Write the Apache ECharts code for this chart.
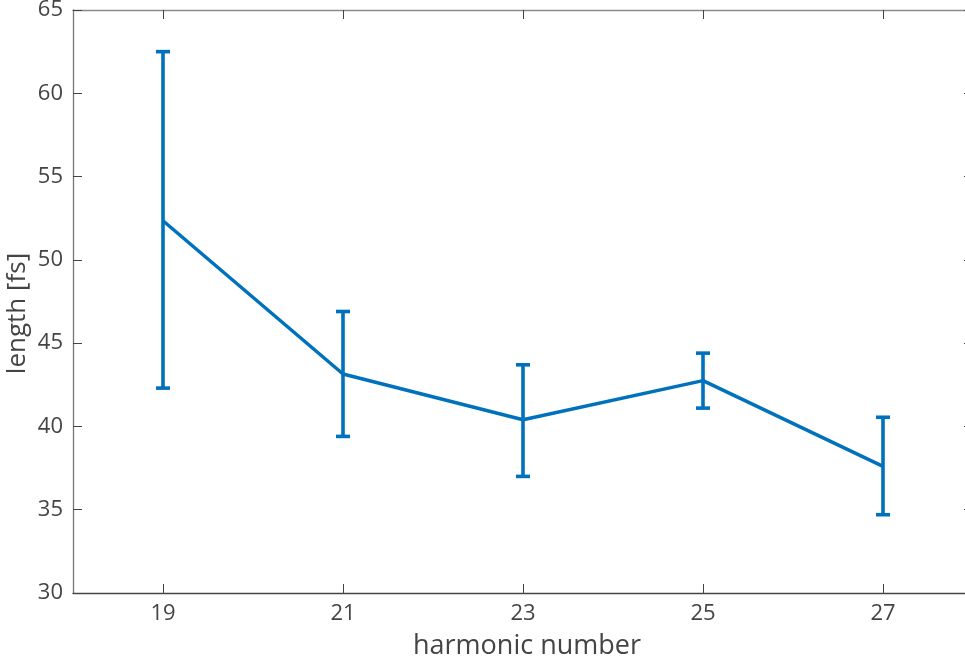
<!DOCTYPE html>
<html>
<head>
<meta charset="utf-8">
<script src="https://cdn.jsdelivr.net/npm/echarts@6/dist/echarts.min.js"></script>
<style>
  html, body { margin: 0; padding: 0; background: #fff; overflow: hidden; }
  #chart { width: 965px; height: 666px; }
</style>
</head>
<body>
<div id="chart"></div>
<script>
// Pulse length per harmonic order, with lower/upper error limits
const harmonics = [19, 21, 23, 25, 27];
const lengthFs = [52.35, 43.15, 40.4, 42.75, 37.6];
const lowerFs = [42.3, 39.4, 37.0, 41.1, 34.7];
const upperFs = [62.5, 46.9, 43.7, 44.4, 40.55];
const xTicks = [19, 21, 23, 25, 27];
const yTicks = [30, 35, 40, 45, 50, 55, 60, 65];

const LINE = '#0072BD';
const AXIS = '#444444';
const FONT = 'Open Sans';

// x axis spans 18..28; its right end lies just past the page border
const X_MIN = 18;
const X_MAX = 28;

const mainLine = harmonics.map((h, i) => [h, lengthFs[i]]);
const errData = harmonics.map((h, i) => [h, lowerFs[i], upperFs[i]]);

function errorBar(params, api) {
  const x = api.value(0);
  const lo = api.coord([x, api.value(1)]);
  const hi = api.coord([x, api.value(2)]);
  const half = 7;
  const style = { stroke: LINE, lineWidth: 3.6, fill: null };
  return {
    type: 'group',
    children: [
      { type: 'line', shape: { x1: lo[0], y1: lo[1], x2: hi[0], y2: hi[1] }, style },
      { type: 'line', shape: { x1: lo[0] - half, y1: lo[1], x2: lo[0] + half, y2: lo[1] }, style },
      { type: 'line', shape: { x1: hi[0] - half, y1: hi[1], x2: hi[0] + half, y2: hi[1] }, style }
    ]
  };
}

const chart = echarts.init(document.getElementById('chart'), null, { renderer: 'canvas' });

const tickCommon = { show: true, inside: true, length: 9, lineStyle: { color: AXIS, width: 1 } };

chart.setOption({
  animation: false,
  backgroundColor: '#ffffff',
  grid: { left: 73, top: 10, right: -8, bottom: 73, containLabel: false, outerBoundsMode: 'none' },
  xAxis: [
    {
      type: 'value', min: X_MIN, max: X_MAX, position: 'bottom',
      name: 'harmonic number', nameLocation: 'middle', nameGap: 40,
      nameTextStyle: { fontFamily: FONT, fontSize: 27, color: AXIS, padding: [0, 0, 0, 8] },
      axisLine: { show: true, onZero: false, lineStyle: { color: AXIS, width: 1.3 } },
      axisTick: Object.assign({ customValues: xTicks }, tickCommon),
      axisLabel: { customValues: xTicks, margin: 10, fontFamily: FONT, fontSize: 22, color: AXIS },
      splitLine: { show: false }
    },
    {
      type: 'value', min: X_MIN, max: X_MAX, position: 'top',
      axisLine: { show: true, onZero: false, lineStyle: { color: '#8a8a8a', width: 1.3 } },
      axisTick: Object.assign({ customValues: xTicks }, tickCommon),
      axisLabel: { show: false },
      splitLine: { show: false }
    }
  ],
  yAxis: [
    {
      type: 'value', min: 30, max: 65, interval: 5, position: 'left',
      name: 'length [fs]', nameLocation: 'middle', nameGap: 42, nameMoveOverlap: false,
      nameTextStyle: { fontFamily: FONT, fontSize: 26, color: AXIS, padding: [0, 24, 0, 0] },
      axisLine: { show: true, onZero: false, lineStyle: { color: '#777777', width: 1.3 } },
      axisTick: tickCommon,
      axisLabel: { margin: 10, fontFamily: FONT, fontSize: 22, color: AXIS,
                   customValues: yTicks },
      splitLine: { show: false }
    },
    {
      type: 'value', min: 30, max: 65, interval: 5, position: 'right',
      axisLine: { show: true, onZero: false, lineStyle: { color: AXIS, width: 1.3 } },
      axisTick: tickCommon,
      axisLabel: { show: false },
      splitLine: { show: false }
    }
  ],
  series: [
    {
      type: 'line', data: mainLine, xAxisIndex: 0, yAxisIndex: 0,
      showSymbol: false, lineStyle: { color: LINE, width: 3.5 }, z: 3
    },
    {
      type: 'custom', data: errData, xAxisIndex: 0, yAxisIndex: 0,
      renderItem: errorBar, encode: { x: 0, y: [1, 2] }, z: 4
    }
  ]
});
</script>
</body>
</html>
